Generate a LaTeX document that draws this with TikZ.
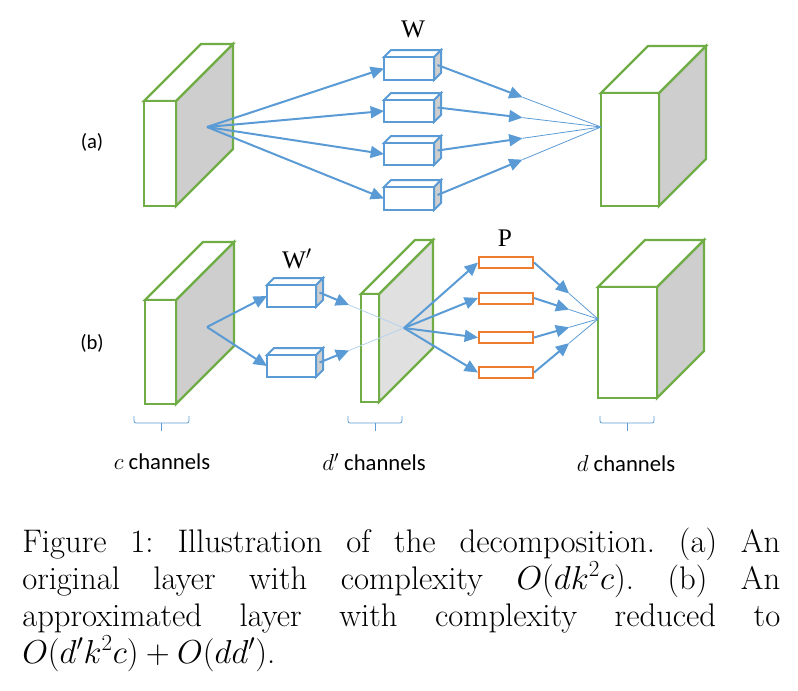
\documentclass[tikz,border=0pt]{standalone}
\usepackage{fontspec}
\usepackage{amsmath}
\usepackage{tikz}
\usetikzlibrary{calc,arrows.meta}
\newfontfamily\labelfont{Carlito}
\newfontfamily\letterfont{Liberation Serif}
\definecolor{framegreen}{RGB}{112,173,71}
\definecolor{lineblue}{RGB}{91,155,213}
\definecolor{rectorange}{RGB}{237,125,49}
\definecolor{sidegray}{RGB}{206,206,206}
\definecolor{palegray}{RGB}{224,224,224}

% cuboid: name, x, y (front top left), width, height, depth, line style, side fill
\newcommand{\cuboid}[8]{%
  \draw[#7, fill=#8] (#2+#4,#3) -- ++(#6,-#6) -- ++(0,#5) -- ++(-#6,#6) -- cycle;
  \draw[#7, fill=white] (#2,#3) -- ++(#6,-#6) -- ++(#4,0) -- ++(-#6,#6) -- cycle;
  \draw[#7, fill=white] (#2,#3) rectangle ++(#4,#5);
  \coordinate (#1-w) at (#2,#3+#5/2);
  \coordinate (#1-e) at (#2+#4+#6/2,#3+#5/2-#6/2);
}

\begin{document}
\begin{tikzpicture}[x=0.75pt,y=0.75pt,yscale=-1,xscale=1,
  greenline/.style={draw=framegreen, line width=1.8pt},
  blueline/.style={draw=lineblue, line width=1.5pt},
  arr/.style={draw=lineblue, line width=1.5pt, -{Triangle[length=10pt,width=9pt]}},
  thinline/.style={draw=lineblue, line width=0.6pt},
  fadeline/.style={draw=lineblue!45, line width=0.6pt},
  prect/.style={draw=rectorange, line width=1.5pt, fill=white, inner sep=0pt,
    minimum width=40.5pt, minimum height=8.25pt},
  brace/.style={draw=lineblue, line width=0.6pt, rounded corners=1.5pt},
  rowlabel/.style={font=\labelfont\fontsize{15.5}{18}\selectfont},
  chlabel/.style={font=\labelfont\fontsize{17}{20}\selectfont},
  letter/.style={font=\letterfont\fontsize{19}{22}\selectfont},
  capline/.style={anchor=base west, inner sep=0pt, font=\fontsize{24.5}{29}\selectfont\frenchspacing}]
\useasboundingbox (0,0) rectangle (798,690);

%%% (a) original layer
% input and output volumes
\cuboid{inA}{144}{101}{32}{105}{57}{greenline}{sidegray}
\cuboid{outA}{601}{93}{58}{113}{47}{greenline}{sidegray}
% filters W
\cuboid{w1}{384}{57}{50}{23}{7}{blueline}{sidegray}
\cuboid{w2}{384}{100}{50}{22}{7}{blueline}{sidegray}
\cuboid{w3}{384}{143}{50}{22}{7}{blueline}{sidegray}
\cuboid{w4}{384}{187}{50}{23}{7}{blueline}{sidegray}
\coordinate (srcA) at (207,127);
\coordinate (tgtA) at (601,127);
\coordinate (mA1) at ($(w1-e)!0.52!(tgtA)$);
\coordinate (mA2) at ($(w2-e)!0.52!(tgtA)$);
\coordinate (mA3) at ($(w3-e)!0.52!(tgtA)$);
\coordinate (mA4) at ($(w4-e)!0.52!(tgtA)$);
% arrows in
\draw[arr] (srcA) -- (w1-w);
\draw[arr] (srcA) -- (w2-w);
\draw[arr] (srcA) -- (w3-w);
\draw[arr] (srcA) -- (w4-w);
% arrows out
\draw[arr] (w1-e) -- (mA1);
\draw[arr] (w2-e) -- (mA2);
\draw[arr] (w3-e) -- (mA3);
\draw[arr] (w4-e) -- (mA4);
\draw[thinline] (mA1) -- (tgtA);
\draw[thinline] (mA2) -- (tgtA);
\draw[thinline] (mA3) -- (tgtA);
\draw[thinline] (mA4) -- (tgtA);

%%% (b) approximated layer
\cuboid{inB}{145}{300}{31}{104}{58}{greenline}{sidegray}
\cuboid{midB}{361}{294}{18}{108}{54}{greenline}{palegray}
\cuboid{outB}{598}{287}{59}{111}{47}{greenline}{sidegray}
% filters W'
\cuboid{v1}{267}{285}{49}{22}{7}{blueline}{sidegray}
\cuboid{v2}{267}{355}{49}{22}{7}{blueline}{sidegray}
% filters P
\node[prect] (p1) at (506,262.5) {};
\node[prect] (p2) at (506,298) {};
\node[prect] (p3) at (506,337.5) {};
\node[prect] (p4) at (506,372.5) {};
\coordinate (srcB) at (207,327);
\coordinate (srcP) at (404,328);
\coordinate (tgtB) at (598,319);
\coordinate (mV1) at ($(v1-e)!0.35!(srcP)$);
\coordinate (mV2) at ($(v2-e)!0.35!(srcP)$);
\coordinate (mP1) at ($(p1.east)!0.55!(tgtB)$);
\coordinate (mP2) at ($(p2.east)!0.55!(tgtB)$);
\coordinate (mP3) at ($(p3.east)!0.55!(tgtB)$);
\coordinate (mP4) at ($(p4.east)!0.55!(tgtB)$);
% W' arrows
\draw[arr] (srcB) -- (v1-w);
\draw[arr] (srcB) -- (v2-w);
\draw[arr] (v1-e) -- (mV1);
\draw[arr] (v2-e) -- (mV2);
\draw[fadeline] (mV1) -- (srcP);
\draw[fadeline] (mV2) -- (srcP);
% P arrows
\draw[arr] (srcP) -- (p1.west);
\draw[arr] (srcP) -- (p2.west);
\draw[arr] (srcP) -- (p3.west);
\draw[arr] (srcP) -- (p4.west);
\draw[arr] (p1.east) -- (mP1);
\draw[arr] (p2.east) -- (mP2);
\draw[arr] (p3.east) -- (mP3);
\draw[arr] (p4.east) -- (mP4);
\draw[thinline] (mP1) -- (tgtB);
\draw[thinline] (mP2) -- (tgtB);
\draw[thinline] (mP3) -- (tgtB);
\draw[thinline] (mP4) -- (tgtB);

% braces
\draw[brace] (134,416) -- (134,423) -- (189,423) -- (189,416);
\draw[brace] (161.5,423) -- (161.5,431);
\draw[brace] (348,416) -- (348,423) -- (402,423) -- (402,416);
\draw[brace] (375,423) -- (375,431);
\draw[brace] (600,416) -- (600,423) -- (654,423) -- (654,416);
\draw[brace] (627,423) -- (627,431);

% Text Node
\node[rowlabel] (labA) at (92,142) {(a)};
\node[rowlabel] (labB) at (92,343) {(b)};
\node[letter] (labW) at (413,29) {W};
\node[letter] (labWp) at (297,259) {W$'$};
\node[letter] (labP) at (505,238) {P};
\node[chlabel] (chC) at (162,462) {$c$ channels};
\node[chlabel] (chDp) at (374,462) {$d'$ channels};
\node[chlabel] (chD) at (626,464) {$d$ channels};

% caption
\node[capline] (cap1) at (22,552) {\makebox[568.5pt][s]{Figure 1: Illustration of the decomposition. (a) An}};
\node[capline] (cap2) at (22,589) {\makebox[568.5pt][s]{original layer with complexity $O(dk^2c)$. (b) An}};
\node[capline] (cap3) at (22,626) {\makebox[568.5pt][s]{approximated layer with complexity reduced to}};
\node[capline] (cap4) at (22,663) {$O(d'k^2c)+O(dd')$.};
\end{tikzpicture}
\end{document}
